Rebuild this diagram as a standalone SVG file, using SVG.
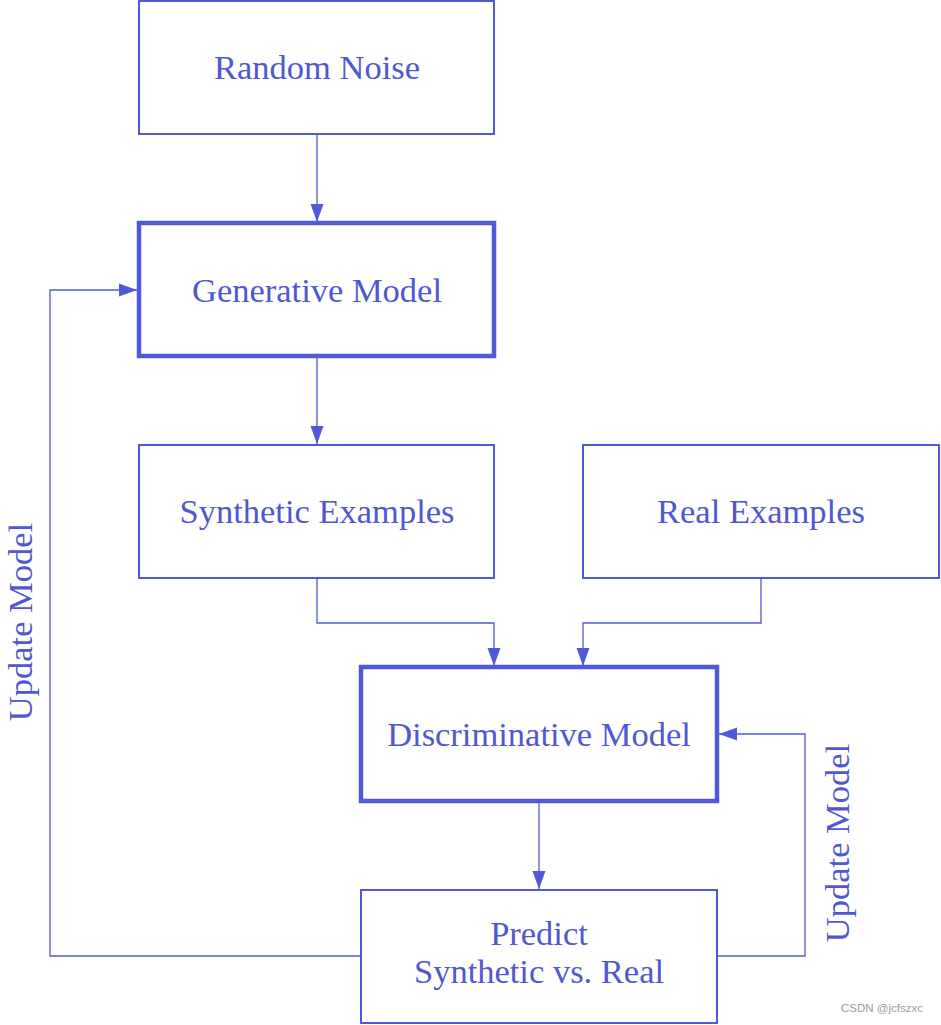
<svg xmlns="http://www.w3.org/2000/svg" width="941" height="1025" viewBox="0 0 941 1025">
<defs>
<style>
.box{fill:#fff;stroke:#5259d9;stroke-width:2}
.thick{stroke-width:4.5}
.lbl{font-family:"Liberation Serif","DejaVu Serif",serif;font-size:34.5px;fill:#5157d0;text-anchor:middle}
.conn{fill:none;stroke:#5259d9;stroke-width:1.3}
.wm{font-family:"Liberation Sans",Arial,sans-serif;font-size:11.5px;fill:#9a9a9a}
</style>
<marker id="ah" markerUnits="userSpaceOnUse" markerWidth="19" markerHeight="14" refX="18" refY="7" orient="auto" viewBox="0 0 19 14">
<path d="M0,0.5 L18,7 L0,13.5 z" fill="#5259d9"/>
</marker>
</defs>
<rect width="941" height="1025" fill="#fff"/>
<g id="connectors">
<path class="conn" d="M317,134 V222" marker-end="url(#ah)"/>
<path class="conn" d="M317,357 V444" marker-end="url(#ah)"/>
<path class="conn" d="M317,578 V623 H494 V666" marker-end="url(#ah)"/>
<path class="conn" d="M761,578 V623 H583 V666" marker-end="url(#ah)"/>
<path class="conn" d="M539,802 V889" marker-end="url(#ah)"/>
<path class="conn" d="M361,956 H50 V290 H137" marker-end="url(#ah)"/>
<path class="conn" d="M717,956 H805 V734 H719" marker-end="url(#ah)"/>
<text class="lbl" transform="translate(31.5,622) rotate(-90)">Update Model</text>
<text class="lbl" transform="translate(849,843) rotate(-90)">Update Model</text>
</g>
<g id="random-noise">
<rect class="box" x="139" y="1" width="355" height="133"/>
<text class="lbl" x="317" y="79">Random Noise</text>
</g>
<g id="generative-model">
<rect class="box thick" x="139" y="223" width="355" height="133"/>
<text class="lbl" x="317" y="302">Generative Model</text>
</g>
<g id="synthetic-examples">
<rect class="box" x="139" y="445" width="355" height="133"/>
<text class="lbl" x="317" y="523">Synthetic Examples</text>
</g>
<g id="real-examples">
<rect class="box" x="583" y="445" width="356" height="133"/>
<text class="lbl" x="761" y="523">Real Examples</text>
</g>
<g id="discriminative-model">
<rect class="box thick" x="361" y="667" width="356" height="134"/>
<text class="lbl" x="539" y="746">Discriminative Model</text>
</g>
<g id="predict">
<rect class="box" x="361" y="890" width="356" height="133"/>
<text class="lbl" x="539" y="945">Predict</text>
<text class="lbl" x="539" y="983">Synthetic vs. Real</text>
</g>
<text class="wm" x="841" y="1012">CSDN @jcfszxc</text>
</svg>
